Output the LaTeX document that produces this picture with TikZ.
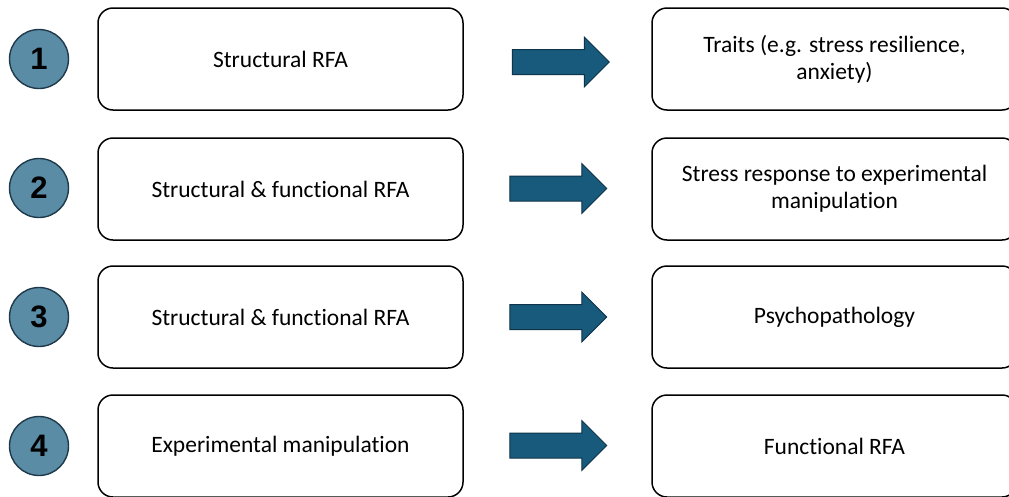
\documentclass[tikz,border=0pt]{standalone}
\usepackage{fontspec}
\setmainfont{Carlito}[Ligatures=CommonOff]
\newfontfamily\numfont{Liberation Sans}
\usepackage{tikz}
\usetikzlibrary{shapes.arrows}
\definecolor{circfill}{HTML}{5A8CA6}
\definecolor{circline}{HTML}{1E3A4A}
\definecolor{arrfill}{HTML}{175A7C}
\definecolor{arrline}{HTML}{0F3349}

\begin{document}
\begin{tikzpicture}[x=1pt, y=-1pt,
    numcirc/.style={circle, draw=circline, line width=1.4pt, fill=circfill,
      minimum size=59pt, inner sep=0pt, font=\numfont\bfseries\fontsize{31}{31}\selectfont},
    stagebox/.style={draw=black, line width=1.5pt, rounded corners=15pt,
      minimum width=365pt, minimum height=102pt, align=center,
      font=\fontsize{23.5}{27}\selectfont},
    blockarrow/.style={single arrow, draw=arrline, line width=1pt, fill=arrfill,
      minimum height=97pt, inner xsep=0pt, inner ysep=12pt,
      single arrow head extend=12.5pt, single arrow tip angle=90}]
  \useasboundingbox (0,0) rectangle (1009,496);
  \clip (0,0) rectangle (1009,496);
  %--- Row 1
  \node[numcirc] (c1) at (39,59) {1};
  \node[stagebox] (l1) at (280.5,59) {Structural RFA};
  \node[blockarrow] (a1) at (554.5,62) {};
  \node[stagebox] (r1) at (834.5,59) {Traits (e.g. stress resilience,\\anxiety)};
  %--- Row 2
  \node[numcirc] (c2) at (39,188) {2};
  \node[stagebox] (l2) at (280.5,189) {Structural \& functional RFA};
  \node[blockarrow] (a2) at (552,188.5) {};
  \node[stagebox] (r2) at (834.5,189) {Stress response to experimental\\manipulation};
  %--- Row 3
  \node[numcirc] (c3) at (39,317) {3};
  \node[stagebox] (l3) at (280.5,317) {Structural \& functional RFA};
  \node[blockarrow] (a3) at (552,317) {};
  \node[stagebox] (r3) at (834.5,317) {Psychopathology};
  %--- Row 4
  \node[numcirc] (c4) at (39,446) {4};
  \node[stagebox] (l4) at (280.5,446) {Experimental manipulation};
  \node[blockarrow] (a4) at (552,445.5) {};
  \node[stagebox] (r4) at (834.5,446) {Functional RFA};
\end{tikzpicture}
\end{document}
